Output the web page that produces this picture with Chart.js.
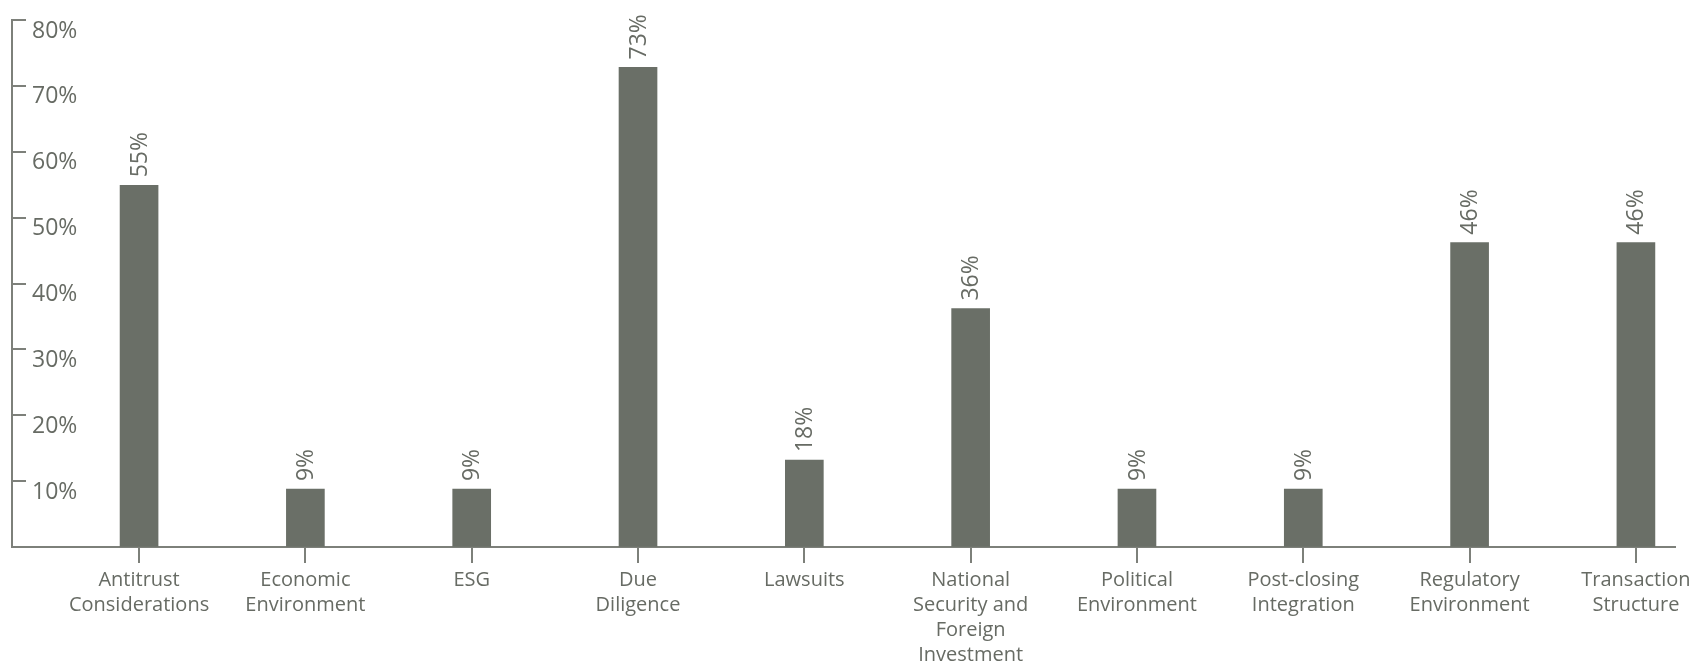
<!DOCTYPE html>
<html>
<head>
<meta charset="utf-8">
<script src="https://cdn.jsdelivr.net/npm/chart.js@4/dist/chart.umd.min.js"></script>
<style>
  html, body { margin: 0; padding: 0; background: #ffffff; }
  #wrap { width: 1696px; height: 668px; }
</style>
</head>
<body>
<div id="wrap"><canvas id="c" width="1696" height="668"></canvas></div>
<script>
const categories = [
  ["Antitrust", "Considerations"],
  ["Economic", "Environment"],
  ["ESG"],
  ["Due", "Diligence"],
  ["Lawsuits"],
  ["National", "Security and", "Foreign", "Investment"],
  ["Political", "Environment"],
  ["Post-closing", "Integration"],
  ["Regulatory", "Environment"],
  ["Transaction", "Structure"]
];
// bar heights as drawn (percent)
const barValues = [54.9, 8.8, 8.8, 72.8, 13.2, 36.2, 8.8, 8.8, 46.2, 46.2];
// printed value labels (percent)
const labelValues = [55, 9, 9, 73, 18, 36, 9, 9, 46, 46];
const yTicks = [10, 20, 30, 40, 50, 60, 70, 80];

const TEXT = '#676b64';
const BAR = '#6a6f67';
const LINE = '#7d807a';
const FONT = "'Open Sans', 'Noto Sans', sans-serif";

const valueLabelPlugin = {
  id: 'valueLabels',
  afterDatasetsDraw(chart) {
    const meta = chart.getDatasetMeta(0);
    const ctx = chart.ctx;
    ctx.save();
    ctx.fillStyle = TEXT;
    ctx.font = "23px " + FONT;
    ctx.textAlign = 'left';
    ctx.textBaseline = 'middle';
    meta.data.forEach((el, i) => {
      ctx.save();
      ctx.translate(el.x + 1, el.y - 8);
      ctx.rotate(-Math.PI / 2);
      ctx.fillText(labelValues[i] + '%', 0, 0);
      ctx.restore();
    });
    ctx.restore();
  }
};

const yTickMarks = {
  id: 'yTickMarks',
  afterDraw(chart) {
    const ys = chart.scales.y;
    const ctx = chart.ctx;
    const left = chart.chartArea.left;
    ctx.save();
    ctx.strokeStyle = LINE;
    ctx.lineWidth = 2;
    yTicks.forEach(v => {
      const py = Math.round(ys.getPixelForValue(v));
      ctx.beginPath();
      ctx.moveTo(left - 1, py);
      ctx.lineTo(left + 14, py);
      ctx.stroke();
    });
    ctx.restore();
  }
};

new Chart(document.getElementById('c'), {
  type: 'bar',
  data: {
    datasets: [{
      data: barValues.map((v, i) => ({ x: i, y: v })),
      backgroundColor: BAR,
      borderWidth: 0,
      barThickness: 38
    }]
  },
  plugins: [valueLabelPlugin, yTickMarks],
  options: {
    responsive: false,
    animation: false,
    events: [],
    layout: { padding: { left: 12, right: 21, top: 20, bottom: 0 } },
    plugins: { legend: { display: false }, tooltip: { enabled: false } },
    scales: {
      x: {
        type: 'linear',
        min: -0.764,
        max: 9.235,
        offset: false,
        afterBuildTicks: (scale) => {
          scale.ticks = categories.map((_, i) => ({ value: i }));
        },
        afterFit: (scale) => {
          scale.height = 121;
          scale.paddingLeft = 0;
          scale.paddingRight = 0;
        },
        grid: {
          display: true,
          offset: false,
          drawOnChartArea: false,
          drawTicks: true,
          tickLength: 16,
          lineWidth: 2,
          color: LINE
        },
        border: { display: true, color: LINE, width: 2 },
        ticks: {
          stepSize: 1,
          autoSkip: false,
          maxRotation: 0,
          minRotation: 0,
          padding: 5,
          color: TEXT,
          font: { family: FONT, size: 20, lineHeight: 1.25 },
          callback: (value) => categories[value] || ''
        }
      },
      y: {
        min: 0,
        max: 80,
        afterFit: (scale) => {
          scale.width = 0;
          scale.paddingTop = 0;
          scale.paddingBottom = 0;
        },
        grid: { display: true, drawOnChartArea: false, drawTicks: false },
        border: { display: true, color: LINE, width: 2 },
        ticks: {
          stepSize: 10,
          mirror: true,
          padding: 20,
          labelOffset: 11,
          color: TEXT,
          font: { family: FONT, size: 23 },
          callback: (v) => (v === 0 ? '' : v + '%')
        }
      }
    }
  }
});
</script>
</body>
</html>
